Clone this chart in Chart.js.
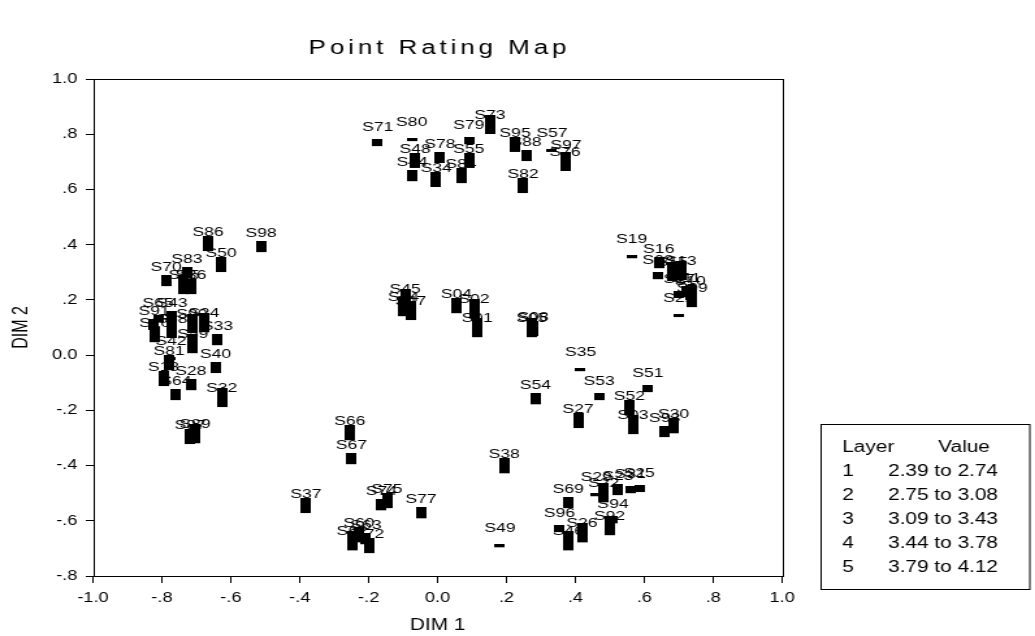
<!DOCTYPE html>
<html>
<head>
<meta charset="utf-8">
<script src="https://cdn.jsdelivr.net/npm/chart.js@4.4.1/dist/chart.umd.min.js"></script>
<style>
html,body{margin:0;padding:0;background:#fff;overflow:hidden;}
#wrap{width:796px;height:636px;transform:scaleX(1.3003);transform-origin:0 0;}
</style>
</head>
<body>
<div id="wrap"><canvas id="map" width="796" height="636"></canvas></div>
<script>
// statement labels, positions on the two dimensions and rating layer (1-5)
const names = ['S71','S80','S73','S79','S78','S55','S48','S44','S34','S84','S95','S88','S57','S97','S76','S82',
  'S86','S98','S50','S70','S83','S85','S36','S65','S43','S91','S20','S58','S90','S24','S33','S59','S42','S81','S40','S18','S28','S64','S32','S87','S89',
  'S19','S16','S68','S15','S13','S17','S11','S10','S09','S21',
  'S45','S14','S47','S04','S02','S01','S05','S08',
  'S35','S53','S51','S54','S52','S27','S03','S93','S30',
  'S38','S49','S69','S96','S46','S26','S92','S94','S29','S22','S23','S31','S25',
  'S66','S67','S37','S74','S75','S77','S60','S63','S62','S72'];
const dim1 = [-0.174,-0.075,0.152,0.091,0.007,0.091,-0.065,-0.074,-0.004,0.068,0.225,0.257,0.332,0.373,0.370,0.248,
  -0.666,-0.512,-0.628,-0.788,-0.727,-0.736,-0.716,-0.811,-0.771,-0.823,-0.821,-0.771,-0.713,-0.678,-0.639,-0.710,-0.774,-0.779,-0.644,-0.795,-0.716,-0.759,-0.626,-0.718,-0.704,
  0.563,0.642,0.640,0.681,0.707,0.701,0.721,0.733,0.739,0.700,
  -0.094,-0.099,-0.078,0.055,0.106,0.115,0.274,0.277,
  0.415,0.469,0.610,0.284,0.557,0.408,0.567,0.659,0.685,
  0.193,0.181,0.379,0.354,0.379,0.419,0.499,0.509,0.460,0.482,0.524,0.559,0.585,
  -0.255,-0.250,-0.382,-0.163,-0.147,-0.048,-0.228,-0.208,-0.248,-0.200];
const dim2 = [0.757,0.775,0.801,0.764,0.696,0.678,0.678,0.630,0.609,0.623,0.736,0.703,0.736,0.692,0.667,0.587,
  0.377,0.373,0.301,0.250,0.279,0.221,0.221,0.120,0.120,0.091,0.047,0.062,0.080,0.083,0.036,0.007,-0.018,-0.054,-0.065,-0.112,-0.127,-0.163,-0.188,-0.322,-0.319,
  0.351,0.315,0.275,0.268,0.272,0.207,0.210,0.199,0.174,0.138,
  0.170,0.141,0.127,0.152,0.134,0.065,0.065,0.069,
  -0.058,-0.163,-0.134,-0.178,-0.217,-0.264,-0.286,-0.297,-0.283,
  -0.428,-0.696,-0.554,-0.641,-0.707,-0.678,-0.652,-0.609,-0.511,-0.533,-0.507,-0.500,-0.496,
  -0.308,-0.395,-0.572,-0.562,-0.554,-0.591,-0.678,-0.685,-0.707,-0.717];
const layers = [2,1,5,2,3,4,4,3,4,4,4,3,1,3,5,4,
  4,3,4,3,3,5,4,2,3,3,4,5,5,5,3,5,1,4,3,4,3,3,5,4,5,
  1,3,2,5,5,2,3,4,5,1,
  5,5,5,4,5,5,5,4,
  1,2,2,3,4,4,5,3,4,
  4,1,3,2,5,5,5,2,1,5,3,2,2,
  4,3,4,3,4,3,4,3,5,4];

const xTickLabels = ['-1.0','-.8','-.6','-.4','-.2','0.0','.2','.4','.6','.8','1.0'];
const yTickLabels = ['-.8','-.6','-.4','-.2','0.0','.2','.4','.6','.8','1.0'];
const layerIds = ['1','2','3','4','5'];
const layerRanges = ['2.39 to 2.74','2.75 to 3.08','3.09 to 3.43','3.44 to 3.78','3.79 to 4.12'];

const FONT = '"Liberation Sans", Arial, sans-serif';

// bar glyph: bottom sits on the point, taller for higher layers
function barImage(layer){
  const h = 3 + 4 * (layer - 1);
  const c = document.createElement('canvas');
  c.width = 8; c.height = h * 2;
  const g = c.getContext('2d');
  g.fillStyle = '#000';
  g.fillRect(0, 0, 8, h);
  return c;
}
const barImgs = layerIds.map((_, i) => barImage(i + 1));

const mapDecor = {
  id: 'mapDecor',
  beforeDatasetsDraw(chart){
    const {ctx, scales: {x, y}} = chart;
    ctx.save();
    ctx.font = '13.5px ' + FONT;
    ctx.textAlign = 'center';
    ctx.textBaseline = 'middle';
    ctx.fillStyle = '#000';
    names.forEach((n, i) => {
      ctx.fillText(n, x.getPixelForValue(dim1[i]), y.getPixelForValue(dim2[i]) - 19);
    });
    ctx.restore();
  },
  afterDraw(chart){
    const {ctx, chartArea: a} = chart;
    ctx.save();
    ctx.strokeStyle = '#000';
    ctx.lineWidth = 1;
    ctx.strokeRect(Math.round(a.left) + 0.5, Math.round(a.top) + 0.5, Math.round(a.right - a.left), Math.round(a.bottom - a.top));
    // title
    ctx.fillStyle = '#000';
    ctx.font = '20px ' + FONT;
    ctx.textAlign = 'center';
    ctx.textBaseline = 'middle';
    ctx.letterSpacing = '3px';
    ctx.fillText('Point Rating Map', (a.left + a.right) / 2 + 1.5, 48);
    ctx.letterSpacing = '0px';
    // legend box
    ctx.strokeRect(631.5, 424.5, 160.5, 165);
    ctx.font = '16px ' + FONT;
    ctx.textAlign = 'left';
    ctx.fillText('Layer', 647.7, 448);
    ctx.fillText('Value', 721.5, 448);
    layerIds.forEach((id, i) => {
      ctx.fillText(id, 647.7, 472 + 24 * i);
      ctx.fillText(layerRanges[i], 683, 472 + 24 * i);
    });
    ctx.restore();
  }
};

new Chart(document.getElementById('map'), {
  type: 'scatter',
  data: {
    datasets: [{
      data: dim1.map((v, i) => ({x: v, y: dim2[i]})),
      pointStyle: c => barImgs[layers[c.dataIndex] - 1],
      pointRadius: 3,
      pointHoverRadius: 3
    }]
  },
  options: {
    responsive: false,
    animation: false,
    devicePixelRatio: 1,
    events: [],
    layout: {padding: {top: 79, right: 194.5, bottom: 0, left: 0}},
    plugins: {legend: {display: false}, tooltip: {enabled: false}},
    scales: {
      x: {
        type: 'linear', min: -1, max: 1,
        ticks: {stepSize: 0.2, autoSkip: false, maxRotation: 0, padding: 7, color: '#000',
          font: {family: FONT, size: 14}, callback: (v, i) => xTickLabels[i]},
        grid: {drawOnChartArea: false, tickLength: 7, color: '#000'},
        border: {display: false},
        title: {display: true, text: 'DIM 1', color: '#000', font: {family: FONT, size: 16}, padding: {top: 0, bottom: 1}},
        afterFit: s => { s.height = 60; }
      },
      y: {
        type: 'linear', min: -0.8, max: 1,
        ticks: {stepSize: 0.2, autoSkip: false, padding: 6.5, color: '#000',
          font: {family: FONT, size: 14}, callback: (v, i) => yTickLabels[i]},
        grid: {drawOnChartArea: false, tickLength: 5.5, color: '#000'},
        border: {display: false},
        title: {display: true, text: 'DIM 2', color: '#000', font: {family: FONT, size: 16}, padding: {top: 7, bottom: 0}},
        afterFit: s => { s.width = 71.5; }
      }
    }
  },
  plugins: [mapDecor]
});
</script>
</body>
</html>
